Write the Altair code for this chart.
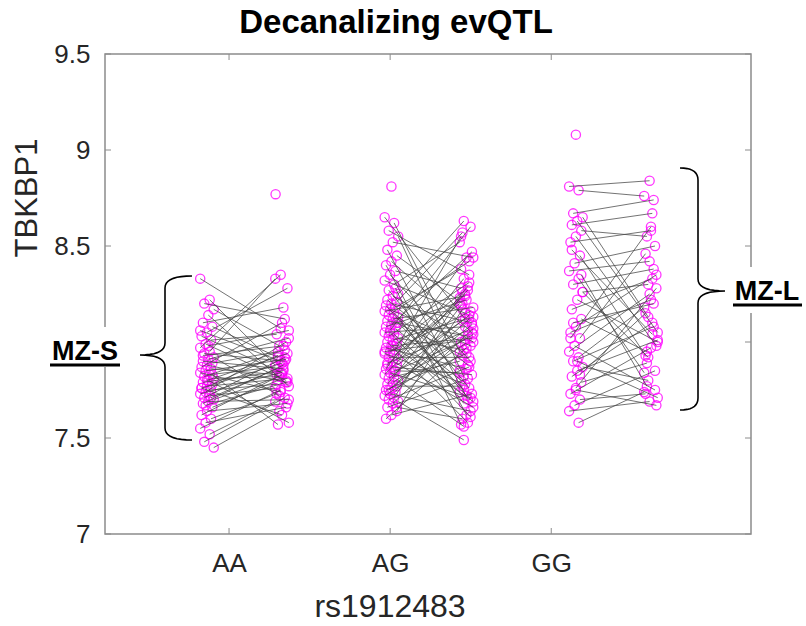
import json
import altair as alt
import numpy as np
import pandas as pd

# ---------------- data ----------------
genotypes = ["AA", "AG", "GG"]

AA_left = [8.33, 8.22, 8.20, 8.17, 8.14, 8.10, 8.08, 8.05, 8.03, 8.01,
           7.99, 7.97, 7.95, 7.94, 7.92, 7.91, 7.90, 7.89, 7.88, 7.87,
           7.86, 7.85, 7.84, 7.83, 7.82, 7.81, 7.80, 7.79, 7.78, 7.77,
           7.76, 7.75, 7.74, 7.73, 7.72, 7.71, 7.70, 7.69, 7.68, 7.66,
           7.64, 7.62, 7.60, 7.58, 7.55, 7.52, 7.48, 7.45, 7.98, 7.93,
           7.83, 7.80, 7.76, 7.71, 7.67, 8.06]
AA_right = [8.07, 7.88, 8.12, 7.98, 7.77, 8.18, 7.92, 8.28, 7.84, 8.04,
            7.80, 8.35, 8.33, 7.90, 7.72, 8.02, 7.86, 7.95, 7.79, 8.10,
            7.83, 7.91, 7.74, 7.87, 7.96, 7.82, 7.58, 7.85, 7.93, 7.81,
            7.89, 7.78, 8.00, 7.84, 7.76, 7.92, 7.82, 7.70, 7.88, 7.80,
            7.68, 7.83, 7.73, 7.66, 7.75, 7.69, 7.71, 7.64, 8.06, 7.98,
            7.57, 7.94, 7.62, 7.86, 7.79, 7.90]

AG_left = [8.65, 8.62, 8.58, 8.55, 8.52, 8.48, 8.45, 8.42, 8.40, 8.37,
           8.35, 8.32, 8.30, 8.27, 8.25, 8.24, 8.22, 8.21, 8.20, 8.19,
           8.18, 8.17, 8.16, 8.15, 8.14, 8.13, 8.12, 8.11, 8.10, 8.09,
           8.08, 8.07, 8.06, 8.05, 8.04, 8.03, 8.02, 8.01, 8.00, 7.99,
           7.98, 7.97, 7.96, 7.95, 7.94, 7.93, 7.92, 7.91, 7.90, 7.89,
           7.88, 7.87, 7.86, 7.85, 7.84, 7.83, 7.82, 7.81, 7.80, 7.79,
           7.78, 7.77, 7.76, 7.75, 7.74, 7.73, 7.72, 7.71, 7.70, 7.69,
           7.68, 7.66, 7.64, 7.62, 7.60, 8.28, 8.05, 7.95, 7.85, 7.75,
           8.10, 7.98, 7.88, 7.66]
AG_right = [8.12, 7.95, 8.35, 7.82, 8.44, 7.70, 8.20, 8.05, 7.62, 8.28,
            7.90, 8.15, 8.52, 7.76, 8.63, 8.00, 7.88, 8.57, 8.10, 7.72,
            8.38, 7.98, 8.24, 7.85, 8.42, 7.68, 8.18, 8.03, 7.93, 8.47,
            8.22, 7.80, 8.60, 8.08, 7.74, 8.31, 7.96, 8.13, 7.58, 8.26,
            8.02, 7.86, 8.55, 8.16, 7.78, 8.20, 7.92, 8.33, 7.66, 8.06,
            8.11, 7.83, 8.44, 8.00, 7.71, 8.25, 7.90, 8.14, 7.56, 8.04,
            8.29, 7.77, 8.09, 7.94, 8.19, 7.64, 7.99, 8.23, 7.87, 7.49,
            8.07, 7.81, 8.17, 7.73, 7.97, 7.57, 7.61, 8.01, 7.84, 8.12,
            7.75, 7.69, 8.27, 7.60]

GG_left = [8.81, 8.79, 8.67, 8.65, 8.63, 8.61, 8.58, 8.55, 8.52, 8.45,
           8.41, 8.37, 8.33, 8.30, 8.26, 8.22, 8.17, 8.12, 8.08, 8.05,
           8.02, 7.98, 7.95, 7.92, 7.90, 7.87, 7.85, 7.82, 7.79, 7.76,
           7.73, 7.70, 7.67, 7.64, 7.58, 8.10, 8.26, 7.90, 8.48, 8.35,
           7.75, 8.02, 7.83]
GG_right = [8.84, 8.76, 8.74, 8.13, 8.05, 8.67, 8.55, 7.98, 8.58, 7.93,
            8.50, 8.42, 7.84, 8.38, 8.30, 8.00, 8.33, 7.95, 8.35, 8.22,
            8.46, 7.75, 8.25, 8.18, 8.08, 7.80, 8.01, 8.10, 7.89, 8.28,
            7.97, 7.73, 7.85, 7.69, 7.74, 8.20, 7.92, 7.71, 8.04, 7.77,
            7.67, 8.60, 8.15]

# unpaired individuals
single_group = ["AA", "AG", "GG"]
single_side = ["R", "L", "L"]
single_value = [8.77, 8.81, 9.08]

y_ticks = [7, 7.5, 8, 8.5, 9, 9.5]
y_hidden_label = 8          # covered by the MZ-S label in the original
x_ticks = [1, 2, 3]

title_text = "Decanalizing evQTL"
x_title = "rs1912483"
y_title = "TBKBP1"

# ---------------- layout constants ----------------
W, H = 646, 480
PAD_L, PAD_T = 105, 54
XMIN, XMAX = 0.23, 4.24
YMIN, YMAX = 7.0, 9.5
COL0, COL_STEP, COL_GAP, JIT = 0.863, 1.145, 0.466, 0.042

MAGENTA = "#ff00ff"
AXIS_GRAY = "#262626"
FRAME = "#8c8c8c"
FONT = "Liberation Sans"


def col_x(gi, side):
    return COL0 + gi * COL_STEP + (COL_GAP if side == "R" else 0.0)


def jitter(i, side):
    k = (i * 7 + (4 if side == "R" else 0)) % 11
    return (k - 5) / 5.0 * JIT


pair_rows, point_rows = [], []
series = {"AA": (AA_left, AA_right), "AG": (AG_left, AG_right), "GG": (GG_left, GG_right)}
for gi, g in enumerate(genotypes):
    L, R = series[g]
    for i, (a, b) in enumerate(zip(L, R)):
        xl = col_x(gi, "L") + jitter(i, "L")
        xr = col_x(gi, "R") + jitter(i, "R")
        pair_rows.append({"g": g, "x": xl, "v": a, "x2": xr, "v2": b})
        point_rows.append({"g": g, "x": xl, "v": a})
        point_rows.append({"g": g, "x": xr, "v": b})
for g, s, v in zip(single_group, single_side, single_value):
    gi = genotypes.index(g)
    point_rows.append({"g": g, "x": col_x(gi, s) + (-0.04 if s == "R" else 0.0), "v": v})

pairs = pd.DataFrame(pair_rows)
points = pd.DataFrame(point_rows)


# ---------------- curly braces (annotation shape) ----------------
def px2x(p):
    return XMIN + (p - PAD_L) / W * (XMAX - XMIN)


def py2y(p):
    return YMIN + (PAD_T + H - p) / H * (YMAX - YMIN)


def qbez(p0, p1, p2, n=10):
    t = np.linspace(0, 1, n)
    return [((1 - s) ** 2 * p0[0] + 2 * (1 - s) * s * p1[0] + s ** 2 * p2[0],
             (1 - s) ** 2 * p0[1] + 2 * (1 - s) * s * p1[1] + s ** 2 * p2[1]) for s in t]


def brace(xe, xs, xt, ytop, ymid, ybot, r=12):
    pts = []
    pts += qbez((xe, ytop), (xs, ytop), (xs, ytop + r))
    pts += qbez((xs, ymid - r), (xs, ymid), (xt, ymid))
    pts += qbez((xt, ymid), (xs, ymid), (xs, ymid + r))
    pts += qbez((xs, ybot - r), (xs, ybot), (xe, ybot))
    return pts


brace_rows = []
for bid, spec in enumerate([(192, 165, 140, 276, 355, 440), (680, 698, 725, 168, 291, 410)]):
    for k, (px, py) in enumerate(brace(*spec)):
        brace_rows.append({"b": bid, "k": k, "x": px2x(px), "v": py2y(py)})
braces = pd.DataFrame(brace_rows)

# ---------------- chart ----------------
xs = alt.Scale(domain=[XMIN, XMAX], nice=False, zero=False)
ys = alt.Scale(domain=[YMIN, YMAX], nice=False, zero=False)
x_label_expr = json.dumps(genotypes) + "[datum.value - 1]"
y_label_expr = f"datum.value == {y_hidden_label} ? '' : datum.label"

x_axis = alt.Axis(values=x_ticks, labelExpr=x_label_expr, title=None, ticks=False, tickSize=0,
                  domain=False, grid=False, labelFontSize=26, labelColor=AXIS_GRAY,
                  labelPadding=16, labelFont=FONT)
y_axis = alt.Axis(values=y_ticks, format="~g", labelExpr=y_label_expr, title=None, ticks=False,
                  tickSize=0, domain=False, grid=False, labelFontSize=26, labelColor=AXIS_GRAY,
                  labelPadding=15, labelFont=FONT)


def X(field):
    return alt.X(field, type="quantitative", scale=xs, axis=x_axis)


def Y(field):
    return alt.Y(field, type="quantitative", scale=ys, axis=y_axis)


pts = alt.Chart(points).mark_point(
    shape="circle", filled=False, color=MAGENTA, size=85, strokeWidth=1.3, opacity=0.78
).encode(x=X("x"), y=Y("v"))

lines = alt.Chart(pairs).mark_rule(color="#444444", strokeWidth=1, opacity=0.75).encode(
    x=X("x"), x2="x2:Q", y=Y("v"), y2="v2:Q")

yt = pd.DataFrame({"v": y_ticks})
xt = pd.DataFrame({"x": x_ticks})
tick_left = alt.Chart(yt).mark_rule(color=FRAME, strokeWidth=1).encode(
    y=Y("v"), x=alt.value(0), x2=alt.value(6))
tick_right = alt.Chart(yt).mark_rule(color=FRAME, strokeWidth=1).encode(
    y=Y("v"), x=alt.value(W), x2=alt.value(W - 6))
tick_bot = alt.Chart(xt).mark_rule(color=FRAME, strokeWidth=1).encode(
    x=X("x"), y=alt.value(H), y2=alt.value(H - 6))
tick_top = alt.Chart(xt).mark_rule(color=FRAME, strokeWidth=1).encode(
    x=X("x"), y=alt.value(0), y2=alt.value(6))

brace_layer = alt.Chart(braces).mark_line(color="black", strokeWidth=1.6).encode(
    x=X("x"), y=Y("v"), detail="b:N", order="k:Q")

one = pd.DataFrame({"a": [0]})

white_s = alt.Chart(one).mark_rect(color="white").encode(
    x=alt.value(-60), x2=alt.value(23), y=alt.value(273), y2=alt.value(313))
white_l = alt.Chart(one).mark_rect(color="white").encode(
    x=alt.value(623), x2=alt.value(701), y=alt.value(213), y2=alt.value(259))

lab_s = alt.Chart(one).mark_text(text="MZ-S", font=FONT, fontWeight="bold", fontSize=27,
                                 color="black", align="center", baseline="alphabetic").encode(
    x=alt.value(-20), y=alt.value(306))
lab_l = alt.Chart(one).mark_text(text="MZ-L", font=FONT, fontWeight="bold", fontSize=27,
                                 color="black", align="center", baseline="alphabetic").encode(
    x=alt.value(662), y=alt.value(246))
ul_s = alt.Chart(one).mark_rule(color="black", strokeWidth=3).encode(
    x=alt.value(-55), x2=alt.value(15), y=alt.value(311))
ul_l = alt.Chart(one).mark_rule(color="black", strokeWidth=3).encode(
    x=alt.value(628), x2=alt.value(697), y=alt.value(251))

title_layer = alt.Chart(one).mark_text(text=title_text, font=FONT, fontWeight="bold", fontSize=33,
                                       color="black", align="center", baseline="alphabetic").encode(
    x=alt.value(291), y=alt.value(-21))
xtitle_layer = alt.Chart(one).mark_text(text=x_title, font=FONT, fontSize=32, color=AXIS_GRAY,
                                        align="center", baseline="alphabetic").encode(
    x=alt.value(285), y=alt.value(563))
ytitle_layer = alt.Chart(one).mark_text(text=y_title, font=FONT, fontSize=31, color=AXIS_GRAY,
                                        align="center", baseline="middle", angle=270).encode(
    x=alt.value(-77), y=alt.value(144))

chart = alt.layer(
    pts, lines, tick_left, tick_right, tick_bot, tick_top, brace_layer,
    white_s, white_l, ul_s, ul_l, lab_s, lab_l, title_layer, xtitle_layer, ytitle_layer,
).properties(
    width=W, height=H,
    padding={"left": PAD_L, "top": PAD_T, "right": 806 - PAD_L - W, "bottom": 626 - PAD_T - H},
    autosize=alt.AutoSizeParams(type="none"),
    background="white",
).configure_view(stroke=FRAME, strokeWidth=1.5)

chart.save("out.html", embed_options={"renderer": "svg", "actions": False})
